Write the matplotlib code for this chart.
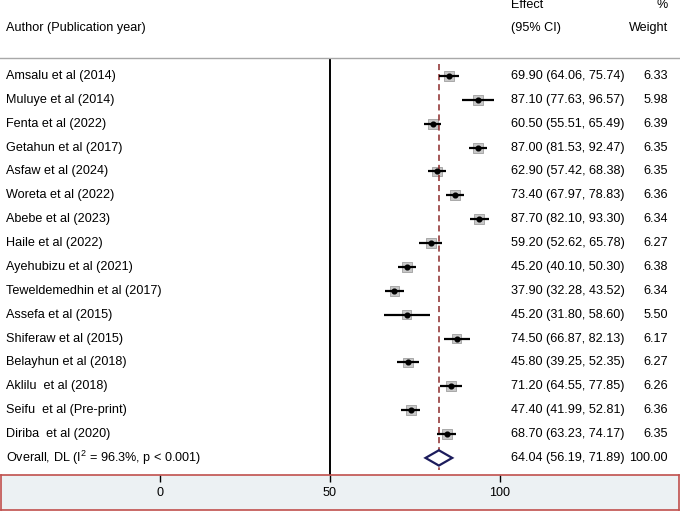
import numpy as np
import matplotlib
matplotlib.use("Agg")
import matplotlib.pyplot as plt
import matplotlib.transforms as mtransforms

plt.rcParams['font.family'] = ['Liberation Sans', 'DejaVu Sans']
plt.rcParams['mathtext.default'] = 'regular'

authors = ["Amsalu et al (2014)", "Muluye et al (2014)", "Fenta et al (2022)",
           "Getahun et al (2017)", "Asfaw et al (2024)", "Woreta et al (2022)",
           "Abebe et al (2023)", "Haile et al (2022)", "Ayehubizu et al (2021)",
           "Teweldemedhin et al (2017)", "Assefa et al (2015)", "Shiferaw et al (2015)",
           "Belayhun et al (2018)", "Aklilu  et al (2018)", "Seifu  et al (Pre-print)",
           "Diriba  et al (2020)"]
es = [69.90, 87.10, 60.50, 87.00, 62.90, 73.40, 87.70, 59.20,
      45.20, 37.90, 45.20, 74.50, 45.80, 71.20, 47.40, 68.70]
lo = [64.06, 77.63, 55.51, 81.53, 57.42, 67.97, 82.10, 52.62,
      40.10, 32.28, 31.80, 66.87, 39.25, 64.55, 41.99, 63.23]
hi = [75.74, 96.57, 65.49, 92.47, 68.38, 78.83, 93.30, 65.78,
      50.30, 43.52, 58.60, 82.13, 52.35, 77.85, 52.81, 74.17]
wt = [6.33, 5.98, 6.39, 6.35, 6.35, 6.36, 6.34, 6.27,
      6.38, 6.34, 5.50, 6.17, 6.27, 6.26, 6.36, 6.35]

overall_label = "Overall, DL (I$^2$ = 96.3%, p < 0.001)"
overall = (64.04, 56.19, 71.89, 100.00)

axis_ticks = [0, 50, 100]

fs = 9.1
fig = plt.figure(figsize=(6.8, 5.12), dpi=100)

# main forest panel
ax = fig.add_axes([0, 36/512, 1, 476/512])
ax.set_xlim(-330/1.7, 350/1.7)
ax.set_ylim((476-76)/23.87, -76/23.87)
ax.axis('off')

y = np.arange(len(es))
wt_a = np.array(wt)
ax.hlines(y, lo, hi, color='black', lw=1.6, zorder=2)
ax.scatter(es, y, s=50*wt_a/6.33, marker='s', facecolor='#c8c8c8',
           edgecolor='#a0a0a0', lw=0.6, zorder=1)
ax.plot(es, y, 'o', color='black', ms=3.4, zorder=3)

yo = len(es)
oe, ol, oh, ow = overall
ax.fill([ol, oe, oh, oe, ol], [yo, yo-0.32, yo, yo+0.32, yo],
        facecolor='white', edgecolor='#1c1c5c', lw=1.6, zorder=2)

ax.vlines(oe, -0.5, yo+0.5, color='#8b2a2a', lw=1.1,
          linestyles=(0, (4, 2.6)), zorder=1)
ax.vlines(0, -0.75, (476-76)/23.87, color='black', lw=1.4)
ax.axhline(-0.75, color='#a8a8a8', lw=1.0)

tr = mtransforms.blended_transform_factory(ax.transAxes, ax.transData)
xa, xe, xw = 6/680, 511/680, 668/680
ax.text(xa, -2.0, "Author (Publication year)", transform=tr, va='center', fontsize=fs)
ax.text(xe, -2.97, "Effect", transform=tr, va='center', fontsize=fs)
ax.text(xe, -2.0, "(95% CI)", transform=tr, va='center', fontsize=fs)
ax.text(xw, -2.97, "%", transform=tr, va='center', ha='right', fontsize=fs)
ax.text(xw, -2.0, "Weight", transform=tr, va='center', ha='right', fontsize=fs)

for i in range(len(es)):
    ax.text(xa, i, authors[i], transform=tr, va='center', fontsize=fs)
    ax.text(xe, i, f"{es[i]:.2f} ({lo[i]:.2f}, {hi[i]:.2f})", transform=tr,
            va='center', fontsize=fs)
    ax.text(xw, i, f"{wt[i]:.2f}", transform=tr, va='center', ha='right', fontsize=fs)

ax.text(xa, yo, overall_label, transform=tr, va='center', fontsize=fs)
ax.text(xe, yo, f"{oe:.2f} ({ol:.2f}, {oh:.2f})", transform=tr, va='center', fontsize=fs)
ax.text(xw, yo, f"{ow:.2f}", transform=tr, va='center', ha='right', fontsize=fs)

# bottom axis band
bx = fig.add_axes([1/680, 2/512, 678/680, 35/512])
bx.set_facecolor('#ecf1f3')
for sp in bx.spines.values():
    sp.set_color('#c0504d')
    sp.set_linewidth(1.2)
bx.set_xlim((1-160)/3.4, (679-160)/3.4)
bx.set_yticks([])
bx.set_xticks(axis_ticks)
bx.set_xticklabels([str(t) for t in axis_ticks])
bx.tick_params(axis='x', bottom=False, top=True, labelbottom=False, labeltop=True,
               direction='in', length=5, width=1.0, pad=-17, labelsize=fs)

fig.savefig("out.png", dpi=100)
